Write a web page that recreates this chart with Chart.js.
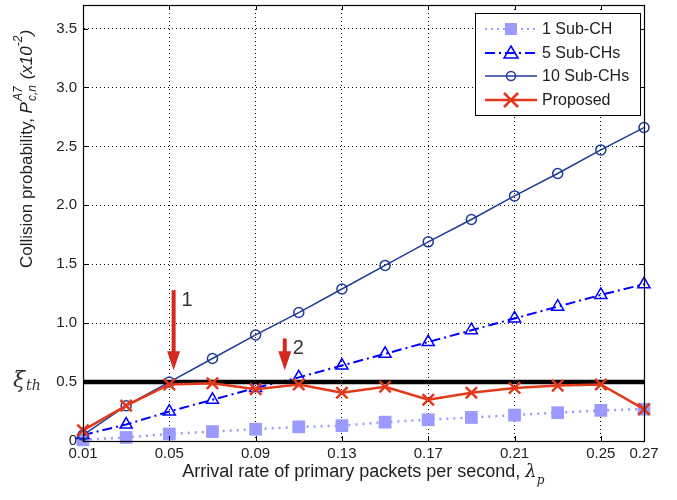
<!DOCTYPE html>
<html><head><meta charset="utf-8">
<script src="https://cdn.jsdelivr.net/npm/chart.js@4/dist/chart.umd.min.js"></script>
<style>html,body{margin:0;padding:0;background:#fff}#wrap{width:677px;height:500px}</style>
</head><body><div id="wrap"><canvas id="c" width="677" height="500"></canvas></div>
<script>
const arrivalRates = [0.01,0.03,0.05,0.07,0.09,0.11,0.13,0.15,0.17,0.19,0.21,0.23,0.25,0.27];
const sub1 =  [0.01,0.03,0.06,0.08,0.10,0.12,0.13,0.16,0.18,0.20,0.22,0.24,0.26,0.27];
const sub5 =  [0.05,0.14,0.25,0.35,0.45,0.54,0.64,0.74,0.84,0.94,1.04,1.14,1.24,1.33];
const sub10 = [0.05,0.30,0.50,0.70,0.90,1.09,1.29,1.49,1.69,1.88,2.08,2.27,2.47,2.66];
const proposed = [0.09,0.30,0.48,0.49,0.44,0.48,0.41,0.46,0.35,0.41,0.45,0.47,0.48,0.27];
const thresholdX = [0.01,0.27];
const thresholdY = [0.5,0.5];
const xTicks = [0.01,0.05,0.09,0.13,0.17,0.21,0.25,0.27];
const yTicks = [0,0.5,1.0,1.5,2.0,2.5,3.0,3.5];
const yTickLabels = ['0','0.5','1.0','1.5','2.0','2.5','3.0','3.5'];
const seriesNames = ['1 Sub-CH','5 Sub-CHs','10 Sub-CHs','Proposed'];
const arrowX = [0.052,0.1035];
const arrowTop = [1.28,0.87];
const arrowBottom = [0.6,0.6];
const arrowLabels = ['1','2'];

const C1='#9a9aff', C5='#0000ff', C10='#1f3b98', CP='#e3391b';
const pts = ys => arrivalRates.map((x,i)=>({x, y:ys[i]}));

const overlay = {
  id:'overlay',
  afterDraw(chart){
    const ctx=chart.ctx, a=chart.chartArea, xs=chart.scales.x, ys=chart.scales.y;
    ctx.save();
    ctx.strokeStyle='#000'; ctx.lineWidth=1.2;
    ctx.strokeRect(a.left+0.5,a.top+0.5,a.right-a.left,a.bottom-a.top);
    ctx.lineWidth=1;
    ctx.beginPath();
    xTicks.forEach(v=>{const p=Math.round(xs.getPixelForValue(v))+0.5;ctx.moveTo(p,a.bottom);ctx.lineTo(p,a.bottom-5);ctx.moveTo(p,a.top);ctx.lineTo(p,a.top+5);});
    yTicks.forEach(v=>{const p=Math.round(ys.getPixelForValue(v))+0.5;ctx.moveTo(a.left,p);ctx.lineTo(a.left+5,p);ctx.moveTo(a.right,p);ctx.lineTo(a.right-5,p);});
    ctx.stroke();
    arrowX.forEach((v,i)=>{
      const x=xs.getPixelForValue(v), yt=ys.getPixelForValue(arrowTop[i]), yb=ys.getPixelForValue(arrowBottom[i]);
      ctx.strokeStyle='#d42a1e'; ctx.fillStyle='#d42a1e'; ctx.lineWidth=4;
      ctx.beginPath(); ctx.moveTo(x,yt); ctx.lineTo(x,yb-16); ctx.stroke();
      ctx.beginPath(); ctx.moveTo(x-6.5,yb-19); ctx.lineTo(x+6.5,yb-19); ctx.lineTo(x,yb); ctx.closePath(); ctx.fill();
      ctx.fillStyle='#333'; ctx.font='20px "Liberation Sans", Arial, sans-serif'; ctx.textBaseline='middle'; ctx.textAlign='left';
      ctx.fillText(arrowLabels[i], x+8, yt+10);
    });
    const y05=ys.getPixelForValue(0.5);
    ctx.fillStyle='#333'; ctx.textBaseline='alphabetic'; ctx.textAlign='left';
    ctx.font='italic 22px "DejaVu Serif", serif';
    ctx.fillText('\u03BE',13,y05+5);
    ctx.font='italic 14px "DejaVu Serif", serif';
    ctx.fillText('th',26,y05+8);
    ctx.save();
    ctx.translate(27,149); ctx.rotate(-Math.PI/2);
    const f='"Liberation Sans", Arial, sans-serif';
    const parts=[
      {t:'Collision probability, ',f:'17px '+f,dy:0},
      {t:'P',f:'italic 17px '+f,dy:0},
      {stack:[{t:'A7',f:'italic 12px '+f,dy:-8},{t:'c,n',f:'italic 12px '+f,dy:6}]},
      {t:' (x10',f:'italic 17px '+f,dy:0},
      {t:'-2',f:'italic 12px '+f,dy:-8},
      {t:')',f:'italic 17px '+f,dy:0}
    ];
    const widths=parts.map(p=>{
      if(p.stack){return Math.max(...p.stack.map(s=>{ctx.font=s.f;return ctx.measureText(s.t).width;}))+2;}
      ctx.font=p.f; return ctx.measureText(p.t).width;
    });
    const total=widths.reduce((s,w)=>s+w,0);
    let cx=-total/2; ctx.fillStyle='#222'; ctx.textBaseline='middle';
    parts.forEach((p,i)=>{
      if(p.stack){p.stack.forEach(s=>{ctx.font=s.f;ctx.fillText(s.t,cx+1,s.dy);});}
      else {ctx.font=p.f;ctx.fillText(p.t,cx,p.dy);}
      cx+=widths[i];
    });
    ctx.restore();
    ctx.fillStyle='#222'; ctx.textBaseline='alphabetic';
    const xt='Arrival rate of primary packets per second, ';
    ctx.font='18px '+f; const w1=ctx.measureText(xt).width;
    ctx.font='italic 18px "DejaVu Serif", serif'; const w2=ctx.measureText('\u03BB').width;
    let sx=363-(w1+w2+7)/2;
    ctx.font='18px '+f; ctx.fillText(xt,sx,477);
    ctx.font='italic 18px "DejaVu Serif", serif'; ctx.fillText('\u03BB',sx+w1,477);
    ctx.font='italic 12px "DejaVu Serif", serif'; ctx.fillText('p',sx+w1+w2,484);
    const lx=475, ly=13, lw=165, lh=102;
    ctx.fillStyle='#fff'; ctx.fillRect(lx,ly,lw,lh);
    ctx.strokeStyle='#000'; ctx.lineWidth=1; ctx.strokeRect(lx+0.5,ly+0.5,lw,lh);
    const rows=[29,53,76,100];
    const styles=[
      {c:C1,dash:[2,4],w:2,m:'square'},
      {c:C5,dash:[10,4,2,4],w:2,m:'tri'},
      {c:C10,dash:[],w:1.5,m:'circ'},
      {c:CP,dash:[],w:2.5,m:'x'}
    ];
    rows.forEach((ry,i)=>{
      const s=styles[i];
      ctx.strokeStyle=s.c; ctx.lineWidth=s.w; ctx.setLineDash(s.dash);
      ctx.beginPath(); ctx.moveTo(485,ry); ctx.lineTo(537,ry); ctx.stroke(); ctx.setLineDash([]);
      const mx=511;
      if(s.m==='square'){ctx.fillStyle=s.c; ctx.fillRect(mx-6,ry-6,12,12);}
      else if(s.m==='tri'){ctx.lineWidth=1.5;ctx.beginPath();ctx.moveTo(mx,ry-7);ctx.lineTo(mx+7,ry+5);ctx.lineTo(mx-7,ry+5);ctx.closePath();ctx.stroke();}
      else if(s.m==='circ'){ctx.lineWidth=1.5;ctx.beginPath();ctx.arc(mx,ry,4.5,0,Math.PI*2);ctx.stroke();}
      else {ctx.lineWidth=2.5;ctx.beginPath();ctx.moveTo(mx-7,ry-7);ctx.lineTo(mx+7,ry+7);ctx.moveTo(mx+7,ry-7);ctx.lineTo(mx-7,ry+7);ctx.stroke();}
      ctx.fillStyle='#222'; ctx.font='16px '+f; ctx.textBaseline='middle'; ctx.textAlign='left';
      ctx.fillText(seriesNames[i],542,ry+1);
    });
    ctx.restore();
  }
};

new Chart(document.getElementById('c'),{
  type:'line',
  data:{datasets:[
    {label:seriesNames[3],data:pts(proposed),borderColor:CP,backgroundColor:CP,borderWidth:2.5,pointStyle:'crossRot',pointRadius:8,pointBorderWidth:2.5,order:0,clip:false},
    {label:'threshold',data:thresholdX.map((x,i)=>({x,y:thresholdY[i]})),borderColor:'#000',borderWidth:4.5,pointRadius:0,order:1,clip:false},
    {label:seriesNames[2],data:pts(sub10),borderColor:C10,backgroundColor:'rgba(0,0,0,0)',borderWidth:1.5,pointStyle:'circle',pointRadius:5,pointBorderWidth:1.5,order:2,clip:false},
    {label:seriesNames[1],data:pts(sub5),borderColor:C5,backgroundColor:'rgba(0,0,0,0)',borderWidth:2,borderDash:[10,4,2,4],pointStyle:'triangle',pointRadius:7,pointBorderWidth:1.5,order:3,clip:false},
    {label:seriesNames[0],data:pts(sub1),borderColor:C1,backgroundColor:C1,borderWidth:2.5,borderDash:[2,5],pointStyle:'rect',pointRadius:9,pointBorderWidth:0,order:4,clip:false}
  ]},
  options:{
    responsive:false,animation:false,
    layout:{autoPadding:false,padding:{top:5,right:33,left:0,bottom:0}},
    plugins:{legend:{display:false},tooltip:{enabled:false}},
    elements:{line:{tension:0}},
    scales:{
      x:{type:'linear',min:0.01,max:0.27,
        afterBuildTicks:s=>{s.ticks=xTicks.map(v=>({value:v}));},
        afterFit:s=>{s.height=59;s.paddingLeft=0;s.paddingRight=0;},
        ticks:{autoSkip:false,maxRotation:0,padding:4,color:'#222',font:{family:'"Liberation Sans", Arial, sans-serif',size:15},callback:v=>Number(v).toFixed(2)},
        grid:{color:'#000',lineWidth:1,drawTicks:false},
        border:{display:true,color:'#000',dash:[1,3]}
      },
      y:{type:'linear',min:0,max:3.7,
        afterBuildTicks:s=>{s.ticks=yTicks.map(v=>({value:v}));},
        afterFit:s=>{s.width=83;s.paddingTop=0;s.paddingBottom=0;},
        ticks:{autoSkip:false,padding:6,color:'#222',font:{family:'"Liberation Sans", Arial, sans-serif',size:15},callback:v=>{const i=yTicks.indexOf(v);return i>=0?yTickLabels[i]:'';}},
        grid:{color:'#000',lineWidth:1,drawTicks:false},
        border:{display:true,color:'#000',dash:[1,3]}
      }
    }
  },
  plugins:[overlay]
});
</script></body></html>
